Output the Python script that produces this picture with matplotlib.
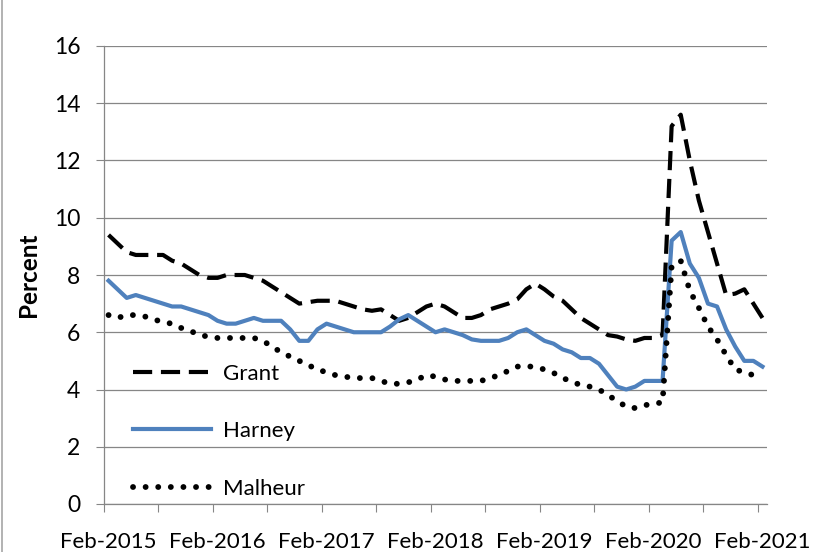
import numpy as np
import pandas as pd
import matplotlib
matplotlib.use('Agg')
import matplotlib.pyplot as plt
from matplotlib.lines import Line2D

# monthly unemployment rate, Feb-2015 .. Feb-2021
months = pd.date_range('2015-02-01', periods=73, freq='MS')

grant = [9.4, 9.1, 8.8, 8.7, 8.7, 8.7, 8.7, 8.5, 8.4, 8.2, 8.0, 7.9,
         7.9, 8.0, 8.0, 8.0, 7.9, 7.8, 7.6, 7.4, 7.2, 7.0, 7.05, 7.1,
         7.1, 7.1, 7.0, 6.9, 6.8, 6.75, 6.8, 6.6, 6.4, 6.5, 6.7, 6.9,
         7.0, 6.9, 6.7, 6.5, 6.5, 6.6, 6.8, 6.9, 7.0, 7.15, 7.5, 7.7,
         7.5, 7.25, 7.1, 6.8, 6.5, 6.3, 6.1, 5.9, 5.85, 5.75, 5.7, 5.8,
         5.8, 5.9, 13.2, 13.6, 12.0, 10.6, 9.5, 8.4, 7.3, 7.35, 7.5, 7.0,
         6.5]

harney = [7.8, 7.5, 7.2, 7.3, 7.2, 7.1, 7.0, 6.9, 6.9, 6.8, 6.7, 6.6,
          6.4, 6.3, 6.3, 6.4, 6.5, 6.4, 6.4, 6.4, 6.1, 5.7, 5.7, 6.1,
          6.3, 6.2, 6.1, 6.0, 6.0, 6.0, 6.0, 6.2, 6.45, 6.6, 6.4, 6.2,
          6.0, 6.1, 6.0, 5.9, 5.75, 5.7, 5.7, 5.7, 5.8, 6.0, 6.1, 5.9,
          5.7, 5.6, 5.4, 5.3, 5.1, 5.1, 4.9, 4.5, 4.1, 4.0, 4.1, 4.3,
          4.3, 4.3, 9.2, 9.5, 8.4, 7.9, 7.0, 6.9, 6.1, 5.5, 5.0, 5.0,
          4.8]

malheur = [6.6, 6.5, 6.6, 6.6, 6.55, 6.45, 6.35, 6.3, 6.15, 6.05, 5.9, 5.85,
           5.8, 5.8, 5.8, 5.8, 5.8, 5.7, 5.5, 5.3, 5.15, 5.0, 4.85, 4.7,
           4.6, 4.5, 4.45, 4.4, 4.4, 4.4, 4.3, 4.2, 4.2, 4.25, 4.35, 4.5,
           4.45, 4.35, 4.3, 4.3, 4.3, 4.3, 4.4, 4.5, 4.65, 4.8, 4.82, 4.78,
           4.7, 4.58, 4.4, 4.28, 4.15, 4.1, 4.0, 3.8, 3.6, 3.4, 3.35, 3.45,
           3.5, 3.55, 8.3, 8.5, 7.45, 6.85, 6.2, 5.75, 5.2, 4.7, 4.6, 4.5,
           4.4]

year_labels = ['Feb-2015', 'Feb-2016', 'Feb-2017', 'Feb-2018',
               'Feb-2019', 'Feb-2020', 'Feb-2021']

plt.rcParams['font.family'] = ['Lato', 'DejaVu Sans']
grid_gray = '#868686'

fig = plt.figure(figsize=(8.2, 5.52), dpi=100)
ax = fig.add_axes([104 / 820, 48 / 552, 663 / 820, 458 / 552])

x = np.arange(len(months))
ax.plot(x, grant, color='black', lw=3, linestyle=(0, (4.6, 2.1)), label='Grant')
ax.plot(x, harney, color='#4F81BD', lw=3, label='Harney')
ax.plot(x, malheur, color='black', lw=4.2, linestyle=(0, (0.01, 2.15)),
        dash_capstyle='round', label='Malheur')

ax.set_xlim(-0.5, len(months) - 0.5)
ax.set_ylim(0, 16)
ax.set_yticks(range(0, 17, 2))
ax.yaxis.grid(True, color=grid_gray, lw=0.9)
ax.set_axisbelow(True)

for side in ['top', 'right']:
    ax.spines[side].set_visible(False)
for side in ['left', 'bottom']:
    ax.spines[side].set_color(grid_gray)
    ax.spines[side].set_linewidth(0.9)

# tick marks between categories every 6 months, labels on each February
ax.set_xticks(np.arange(-0.5, len(months) - 1, 6))
ax.set_xticklabels([])
ax.set_xticks(x[::12], year_labels, minor=True)
ax.tick_params(axis='x', which='major', length=6, color=grid_gray, direction='out')
ax.tick_params(axis='x', which='minor', length=0, pad=20, labelsize=16)
ax.tick_params(axis='y', length=6, color=grid_gray, direction='out', pad=11, labelsize=16.5)

ax.set_ylabel('Percent', fontsize=17.5, fontweight='bold')
ax.yaxis.set_label_coords(-0.097, 0.5)

ax.legend(loc='lower left', bbox_to_anchor=(0.044, 0.012), frameon=False,
          fontsize=16, handlelength=3.5, handletextpad=0.55, labelspacing=1.68,
          borderpad=0, borderaxespad=0)

fig.add_artist(Line2D([2 / 820, 2 / 820], [0, 1], color='#a6a6a6', lw=1.2))

fig.savefig('out.png', dpi=100)
